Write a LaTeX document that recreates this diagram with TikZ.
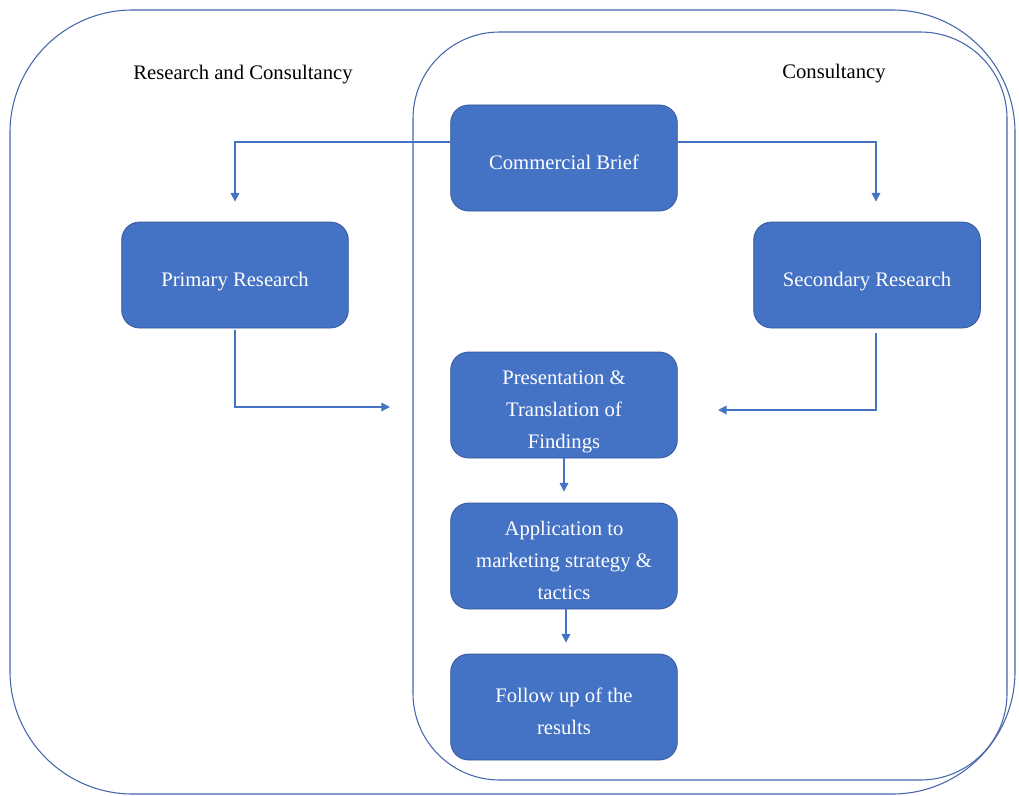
\documentclass[tikz,border=0pt]{standalone}
\usepackage{fontspec}
\setmainfont{Liberation Serif}
\usetikzlibrary{arrows.meta}
\definecolor{boxblue}{RGB}{68,114,196}
\definecolor{boxedge}{RGB}{52,88,155}
\definecolor{frameblue}{RGB}{70,102,170}
\newcommand{\stagetext}[1]{\raisebox{-3.5pt}[\height][\depth]{\begin{tabular}{@{}c@{}}#1\end{tabular}}}
\begin{document}
\begin{tikzpicture}[x=0.75pt, y=-0.75pt,
	stage/.style={draw=boxedge, line width=0.6pt, fill=boxblue, rounded corners=13.5pt, minimum width=170pt, minimum height=79.5pt, inner sep=0pt, text=white, font=\fontsize{15.5pt}{24pt}\selectfont},
	frame/.style={draw=frameblue, line width=0.8pt},
	link/.style={draw=boxblue, line width=0.9pt, -{Triangle[width=6.5pt,length=6.5pt]}},
	title/.style={font=\fontsize{15.5pt}{18pt}\selectfont}]
		\useasboundingbox (0,0) rectangle (1019,795);
		\draw[frame, rounded corners=92pt] (10,10) rectangle (1015,794);
		\draw[frame, rounded corners=65pt] (413,32) rectangle (1007,780);
		\node[title] (rc) at (243,75) {Research and Consultancy};
		\node[title] (co) at (834,74) {Consultancy};
		\node[stage] (cb) at (564,158) {\stagetext{Commercial Brief}};
		\node[stage] (pr) at (235,275) {\stagetext{Primary Research}};
		\node[stage] (sr) at (867,275) {\stagetext{Secondary Research}};
		\node[stage] (pt) at (564,405) {\stagetext{Presentation \&\\ Translation of\\ Findings}};
		\node[stage] (ap) at (564,556) {\stagetext{Application to\\ marketing strategy \&\\ tactics}};
		\node[stage] (fu) at (564,707) {\stagetext{Follow up of the\\ results}};
		\coordinate (pin) at (390,407);
		\coordinate (sin) at (718,410);
		\draw[link] ([yshift=12pt]cb.west) -| ([yshift=15pt]pr.north);
		\draw[link] ([yshift=12pt]cb.east) -| ([xshift=6.75pt,yshift=15pt]sr.north);
		\draw[link] ([yshift=-1.5pt]pr.south) |- (pin);
		\draw[link] ([xshift=6.75pt,yshift=-3.75pt]sr.south) |- (sin);
		\draw[link] (pt.south) -- ([yshift=8.25pt]ap.north);
		\draw[link] ([xshift=1.5pt]ap.south) -- ([xshift=1.5pt,yshift=8.25pt]fu.north);
\end{tikzpicture}
\end{document}
